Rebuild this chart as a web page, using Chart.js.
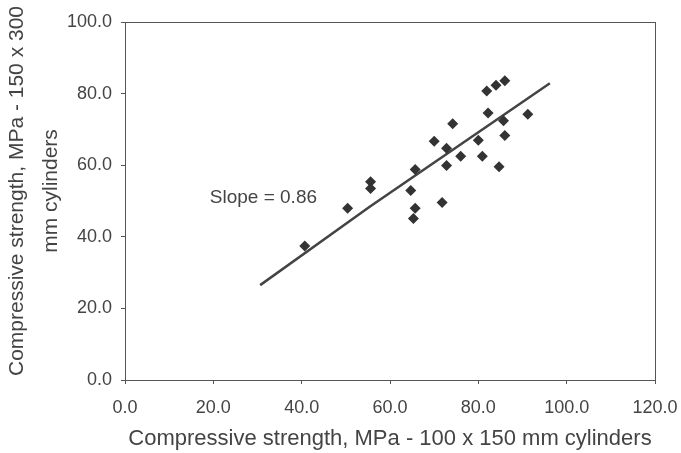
<!DOCTYPE html>
<html lang="en">
<head>
<meta charset="UTF-8">
<title>Cylinder strength</title>
<style>
  body { margin: 0; background: #fff; }
  #wrap { width: 681px; height: 453px; }
</style>
</head>
<body>
<div id="wrap"><canvas id="strengthChart"></canvas></div>

<script src="https://cdn.jsdelivr.net/npm/chart.js"></script>
<script>
// measured pairs: 100x150 mm (x) vs 150x300 mm (y), MPa
const smallCyl = [40.7, 50.4, 55.6, 55.6, 64.7, 65.7, 65.7, 65.3, 71.8, 70.0, 72.8, 72.8,
                  74.2, 76.0, 80.0, 80.9, 81.9, 82.2, 84.0, 86.0, 85.7, 86.0, 84.7, 91.2];
const largeCyl = [37.4, 48.0, 55.4, 53.5, 52.9, 58.8, 48.0, 45.1, 49.6, 66.7, 64.7, 59.9,
                  71.6, 62.5, 67.0, 62.5, 80.7, 74.6, 82.3, 83.6, 72.4, 68.3, 59.6, 74.2];

// fitted line (slope 0.86)
const fitX = [30.6, 55.4, 96.2];
const fitY = [26.5, 48.4, 82.9];

const slopeText = 'Slope = 0.86';
const slopeAt = [19.2, 49.4];
const yTitle = ['Compressive strength, MPa - 150 x 300', 'mm cylinders'];

const FONT = '"Liberation Sans", Arial, sans-serif';
const INK = '#444';

const boxPlugin = {
  id: 'box',
  afterDraw(chart) {
    const { ctx, chartArea: a, scales } = chart;
    ctx.save();
    ctx.strokeStyle = '#555';
    ctx.lineWidth = 1;
    ctx.strokeRect(a.left + 0.5, a.top + 0.5, a.right - a.left, a.bottom - a.top);

    ctx.fillStyle = INK;
    ctx.font = '19px ' + FONT;
    ctx.textAlign = 'left';
    ctx.textBaseline = 'alphabetic';
    ctx.fillText(slopeText, scales.x.getPixelForValue(slopeAt[0]), scales.y.getPixelForValue(slopeAt[1]));

    // y axis title, two lines, sits a bit above the plot centre like the original
    ctx.font = '21px ' + FONT;
    ctx.textAlign = 'center';
    [23, 57].forEach((bx, i) => {
      ctx.save();
      ctx.translate(bx, 191);
      ctx.rotate(-Math.PI / 2);
      ctx.fillText(yTitle[i], 0, 0);
      ctx.restore();
    });
    ctx.restore();
  }
};

// pin the plot box, ignore label overhang padding
function noOverhang(s) {
  s.paddingLeft = 0; s.paddingRight = 0; s.paddingTop = 0; s.paddingBottom = 0;
}

new Chart(document.getElementById('strengthChart'), {
  type: 'scatter',
  data: {
    datasets: [{
      data: smallCyl.map((v, i) => ({ x: v, y: largeCyl[i] })),
      pointStyle: 'rectRot',
      pointRadius: 5.5,
      pointHoverRadius: 5.5,
      backgroundColor: '#333',
      borderColor: '#333',
      borderWidth: 0
    }, {
      type: 'line',
      data: fitX.map((v, i) => ({ x: v, y: fitY[i] })),
      borderColor: INK,
      borderWidth: 2.5,
      pointRadius: 0,
      fill: false
    }]
  },
  options: {
    responsive: true,
    maintainAspectRatio: false,
    animation: false,
    layout: { padding: { top: 22, right: 26, left: 0, bottom: 0 } },
    plugins: { legend: { display: false }, tooltip: { enabled: false } },
    scales: {
      x: {
        type: 'linear',
        min: 0, max: 120,
        afterFit(s) { s.height = 73; noOverhang(s); },
        ticks: {
          stepSize: 20,
          padding: 13,
          color: INK,
          font: { family: FONT, size: 18 },
          callback: v => v.toFixed(1)
        },
        grid: { drawOnChartArea: false, tickLength: 4, color: '#555' },
        border: { color: '#555' },
        title: {
          display: true,
          text: 'Compressive strength, MPa - 100 x 150 mm cylinders',
          color: INK,
          font: { family: FONT, size: 22, lineHeight: 1.2 },
          padding: { top: 0, bottom: 1 }
        }
      },
      y: {
        min: 0, max: 100,
        afterFit(s) { s.width = 125; noOverhang(s); },
        ticks: {
          stepSize: 20,
          padding: 9,
          color: INK,
          font: { family: FONT, size: 18 },
          callback: v => v.toFixed(1)
        },
        grid: { drawOnChartArea: false, tickLength: 4, color: '#555' },
        border: { color: '#555' }
      }
    }
  },
  plugins: [boxPlugin]
});
</script>
</body>
</html>
